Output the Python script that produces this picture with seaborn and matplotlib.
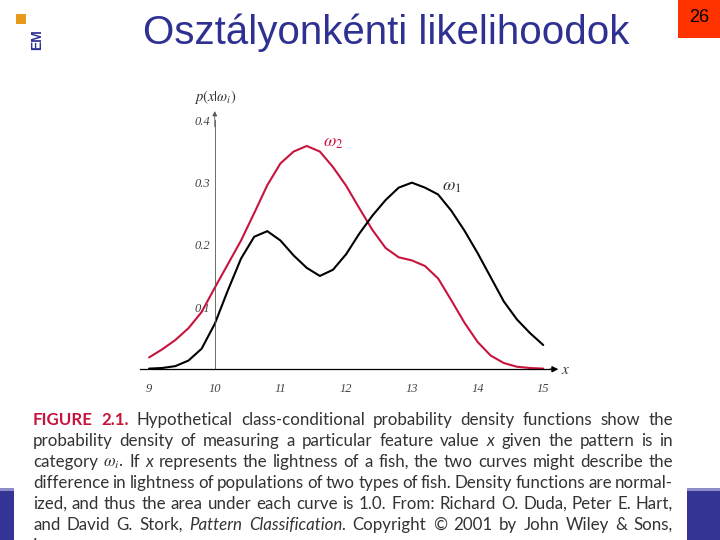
import seaborn as sns
import matplotlib.pyplot as plt
import pandas as pd
from matplotlib.patches import Rectangle
from matplotlib.ticker import FixedLocator, MultipleLocator

# Class-conditional densities p(x|w_i), every 0.2
x_vals = [9.0, 9.2, 9.4, 9.6, 9.8, 10.0, 10.2, 10.4, 10.6, 10.8, 11.0,
          11.2, 11.4, 11.6, 11.8, 12.0, 12.2, 12.4, 12.6, 12.8, 13.0,
          13.2, 13.4, 13.6, 13.8, 14.0, 14.2, 14.4, 14.6, 14.8, 15.0]
p_w1 = [0.001, 0.002, 0.005, 0.014, 0.033, 0.073, 0.127, 0.178, 0.213, 0.222, 0.207,
        0.183, 0.163, 0.150, 0.160, 0.185, 0.218, 0.247, 0.272, 0.292, 0.300,
        0.292, 0.281, 0.255, 0.223, 0.187, 0.148, 0.109, 0.080, 0.058, 0.039]
p_w2 = [0.019, 0.032, 0.047, 0.066, 0.092, 0.131, 0.169, 0.207, 0.251, 0.296, 0.331,
        0.350, 0.359, 0.350, 0.325, 0.295, 0.259, 0.224, 0.195, 0.180, 0.175,
        0.166, 0.146, 0.111, 0.075, 0.044, 0.022, 0.010, 0.004, 0.002, 0.001]

# Ticks
x_ticks = [9, 10, 11, 12, 13, 14, 15]
x_tick_labels = ['9', '10', '11', '12', '13', '14', '15']
y_ticks = [0.1, 0.2, 0.3, 0.4]
y_tick_labels = ['0.1', '0.2', '0.3', '0.4']

title = 'Osztályonkénti likelihoodok'
page_no = '26'

# Caption lines: (text, style)
caption = [
    [('FIGURE 2.1.', 'fig'), ('Hypothetical class-conditional probability density functions show the', 'n')],
    [('probability density of measuring a particular feature value', 'n'), ('x', 'it'),
     ('given the pattern is in', 'n')],
    [('category', 'n'), (r'$\omega_i$.', 'n'), ('If', 'n'), ('x', 'it'),
     ('represents the lightness of a fish, the two curves might describe the', 'n')],
    [('difference in lightness of populations of two types of fish. Density functions are normal-', 'n')],
    [('ized, and thus the area under each curve is 1.0. From: Richard O. Duda, Peter E. Hart,', 'n')],
    [('and David G. Stork,', 'n'), ('Pattern Classification.', 'it'),
     ('Copyright © 2001 by John Wiley & Sons,', 'n')],
    [('Inc.', 'n')],
]

red = '#C8143C'
navy = '#2E3192'

sns.set_style('white')
plt.rcParams['mathtext.fontset'] = 'stix'

W, H = 720, 540
fig = plt.figure(figsize=(7.2, 5.4), dpi=100)


def fx(px):
    return px / W


def fy(py):
    return 1 - py / H


# Plot area
ax = fig.add_axes([0.1888, 0.2356, 0.6113, 0.5989])
ax.patch.set_alpha(0)
df = pd.DataFrame({'x': x_vals, 'w1': p_w1, 'w2': p_w2})
sns.lineplot(data=df, x='x', y='w2', color=red, lw=1.5, ax=ax)
sns.lineplot(data=df, x='x', y='w1', color='black', lw=1.5, ax=ax)

ax.set_xlim(8.8, 15.5)
ax.set_ylim(-0.07, 0.45)
ax.set_xlabel('')
ax.set_ylabel('')
ax.spines['top'].set_visible(False)
ax.spines['right'].set_visible(False)
ax.spines['bottom'].set_position(('data', 0))
ax.spines['left'].set_position(('data', 10))
ax.spines['bottom'].set_bounds(8.86, 15.15)
ax.spines['left'].set_bounds(0, 0.40)
ax.spines['bottom'].set_color('black')
ax.spines['bottom'].set_linewidth(0.9)
ax.spines['left'].set_color('#555555')
ax.spines['left'].set_linewidth(0.6)

ax.xaxis.set_major_locator(FixedLocator(x_ticks))
ax.xaxis.set_minor_locator(MultipleLocator(0.2))
ax.set_xticklabels(x_tick_labels, fontfamily='Liberation Serif', fontstyle='italic',
                   fontsize=9, color='#444444')
ax.yaxis.set_major_locator(FixedLocator(y_ticks))
ax.set_yticklabels(y_tick_labels, fontfamily='Liberation Serif', fontstyle='italic',
                   fontsize=9, color='#444444')
ax.tick_params(axis='x', which='major', direction='in', length=4, width=0.7, pad=10)
ax.tick_params(axis='x', which='minor', direction='in', length=2.5, width=0.6)
ax.tick_params(axis='y', which='major', direction='out', length=2.5, width=0.6,
               pad=1, color='#555555')

# arrow heads
ax.annotate('', xy=(15.23, 0), xytext=(15.1, 0),
            arrowprops=dict(arrowstyle='-|>', color='black', lw=0.9,
                            mutation_scale=9, shrinkA=0, shrinkB=0))
ax.annotate('', xy=(10, 0.415), xytext=(10, 0.39),
            arrowprops=dict(arrowstyle='-|>', color='#555555', lw=0.6,
                            mutation_scale=7, shrinkA=0, shrinkB=0))

ax.text(10, 0.438, r'$p(x|\omega_i)$', ha='center', va='center', fontsize=10.5, color='#333333')
ax.text(15.27, 0, r'$x$', ha='left', va='center', fontsize=11, color='#333333')
ax.text(11.80, 0.365, r'$\omega_2$', ha='center', va='center', fontsize=13, color=red)
ax.text(13.61, 0.294, r'$\omega_1$', ha='center', va='center', fontsize=13, color='#333333')

# Slide decorations
fig.add_artist(Rectangle((0, 0), 1, fy(488), transform=fig.transFigure,
                         color='#343494', lw=0, zorder=1))
fig.add_artist(Rectangle((0, fy(491)), 1, 3 / H, transform=fig.transFigure,
                         color='#8C8CC8', lw=0, zorder=1))
fig.add_artist(Rectangle((fx(14), 0), fx(687) - fx(14), fy(400), transform=fig.transFigure,
                         color='white', lw=0, zorder=1))
fig.add_artist(Rectangle((fx(678), fy(38)), fx(42), 38 / H, transform=fig.transFigure,
                         color='#FF3300', lw=0, zorder=1))
fig.add_artist(Rectangle((fx(16), fy(24)), fx(10), 10 / H, transform=fig.transFigure,
                         color='#E89A1C', lw=0, zorder=1))
fig.text(fx(37.5), fy(40), 'EM', rotation=90, ha='center', va='center', fontsize=10,
         fontweight='bold', family='Liberation Sans', color=navy, zorder=2)
fig.text(fx(699), fy(18), page_no, ha='center', va='center', fontsize=13,
         family='Liberation Sans', color='black', zorder=2)
fig.text(fx(386), fy(44), title, ha='center', va='baseline', fontsize=29,
         family='Liberation Sans', color=navy, zorder=2)

# Caption, justified between two margins
styles = {
    'n': dict(color='#333333'),
    'it': dict(color='#333333', style='italic'),
    'fig': dict(color=red, weight='bold'),
}
renderer = fig.canvas.get_renderer()
left_px, right_px = 33, 673
for i, line in enumerate(caption):
    words = []
    for seg, kind in line:
        for w in seg.split(' '):
            t = fig.text(0, fy(425 + 21 * i), w, fontsize=12.2, family='Lato',
                         va='baseline', ha='left', zorder=2, **styles[kind])
            words.append(t)
    widths = [t.get_window_extent(renderer).width for t in words]
    if i < len(caption) - 1 and len(words) > 1:
        gap = max(2, (right_px - left_px - sum(widths)) / (len(words) - 1))
    else:
        gap = 4
    xpos = left_px
    for t, w in zip(words, widths):
        t.set_x(fx(xpos))
        xpos += w + gap

fig.savefig('out.png', dpi=100)
